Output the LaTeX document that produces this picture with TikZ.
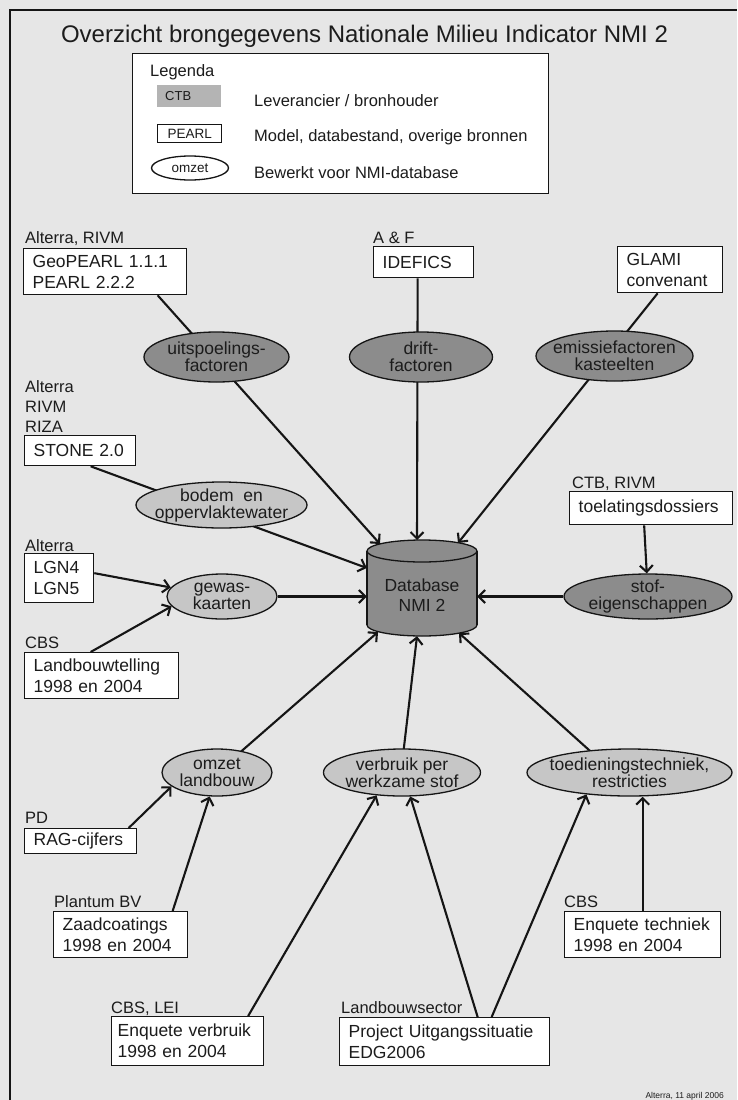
\documentclass[tikz,border=0pt]{standalone}
\usepackage{fontspec}
\setmainfont{Liberation Sans}
\usetikzlibrary{calc,arrows.meta,shapes.geometric}
\pgfdeclarelayer{bg}\pgfdeclarelayer{edges}
\pgfsetlayers{bg,edges,main}
\definecolor{bgc}{HTML}{E6E6E6}
\definecolor{darkc}{HTML}{8C8C8C}
\definecolor{lightc}{HTML}{C6C6C6}
\definecolor{ctbc}{HTML}{B4B4B4}
\definecolor{txt}{HTML}{1C1C1C}
\definecolor{lnc}{HTML}{151515}
\hyphenpenalty=10000
\tikzset{
  box/.style={draw=lnc, line width=1.3pt, fill=white, anchor=north west, align=left,
    inner xsep=9pt, inner ysep=0pt, font=\fontsize{17.5}{21}\selectfont, text=txt},
  src/.style={anchor=base west, inner sep=0pt, font=\fontsize{16.5}{20}\selectfont, text=txt},
  ell/.style={ellipse, draw=lnc, line width=1.3pt, inner sep=0pt},
  darkell/.style={ell, fill=darkc},
  lightell/.style={ell, fill=lightc},
  etext/.style={align=center, font=\fontsize{17.5}{17}\selectfont, text=txt, inner sep=0pt},
  ln/.style={line width=2.1pt, draw=lnc},
  arr/.style={ln, -{Straight Barb[length=6.5pt,width=13pt]}},
  legtxt/.style={anchor=base west, inner sep=0pt, font=\fontsize{16.5}{20}\selectfont, text=txt},
}
\begin{document}
\begin{tikzpicture}[x=1pt,y=-1pt]
\useasboundingbox (0,0) rectangle (737,1100);
\begin{pgfonlayer}{bg}
  \fill[bgc] (0,0) rectangle (737,1100);
  \draw[line width=1.8pt, lnc] (10,1100) -- (10,10) -- (737,10);
\end{pgfonlayer}

% title
\node[anchor=base, inner sep=0pt, font=\fontsize{24}{28}\selectfont, text=txt] (title) at (364.5,42)
  {Overzicht brongegevens Nationale Milieu Indicator NMI 2};

% legend
\node[draw=lnc, line width=1.3pt, fill=white, minimum width=416pt, minimum height=140pt,
  anchor=north west, inner sep=0pt] (leg) at (132,53) {};
\node[legtxt] (legt) at (150,76) {Legenda};
\node[fill=ctbc, minimum width=64pt, minimum height=22pt, anchor=north west, inner xsep=8pt,
  text width=48pt, align=left, font=\fontsize{13}{15}\selectfont, text=txt] (lctb) at (157,85) {CTB};
\node[legtxt] (lctbt) at (254,106) {Leverancier / bronhouder};
\node[draw=lnc, line width=1.3pt, fill=white, minimum width=64pt, minimum height=18pt,
  anchor=north west, inner sep=0pt, font=\fontsize{13.5}{15}\selectfont, text=txt] (lpearl) at (157,124) {PEARL};
\node[legtxt] (lpearlt) at (254,141) {Model, databestand, overige bronnen};
\node[ell, fill=white, minimum width=77pt, minimum height=24pt, font=\fontsize{13.5}{15}\selectfont, text=txt]
  (lomzet) at (190,168) {omzet};
\node[legtxt] (lomzett) at (254,178) {Bewerkt voor NMI-database};

% source labels
\node[src] (s1) at (25,243) {Alterra, RIVM};
\node[src, anchor=north west, align=left] (s2) at (25,380) {Alterra\\RIVM\\RIZA};
\node[src] (s3) at (373,243) {A \& F};
\node[src] (s4) at (572,488) {CTB, RIVM};
\node[src] (s5) at (25,551) {Alterra};
\node[src] (s6) at (25,648) {CBS};
\node[src] (s7) at (25,823) {PD};
\node[src] (s8) at (54,907) {Plantum BV};
\node[src] (s9) at (111,1013) {CBS, LEI};
\node[src] (s10) at (341,1013) {Landbouwsector};
\node[src] (s11) at (564,907) {CBS};

% boxes
\node[box, minimum width=163pt, minimum height=46pt, text width=145pt] (geo) at (23,248) {GeoPEARL 1.1.1\\PEARL 2.2.2};
\node[box, minimum width=100pt, minimum height=31pt, text width=82pt] (idef) at (373,246) {IDEFICS};
\node[box, minimum width=105pt, minimum height=46pt, text width=87pt] (glami) at (617,246) {GLAMI\\convenant};
\node[box, minimum width=111pt, minimum height=30pt, text width=93pt] (stone) at (24,435) {STONE 2.0};
\node[box, minimum width=163pt, minimum height=33pt, text width=145pt] (toel) at (569,491) {toelatingsdossiers};
\node[box, minimum width=69pt, minimum height=49pt, text width=51pt] (lgn) at (24,553) {LGN4\\LGN5};
\node[box, minimum width=154pt, minimum height=46pt, text width=136pt] (landb) at (24,652) {Landbouwtelling\\1998 en 2004};
\node[box, minimum width=112pt, minimum height=25pt, text width=94pt] (rag) at (24,828) {RAG-cijfers};
\node[box, minimum width=134pt, minimum height=46pt, text width=116pt] (zaad) at (53,911) {Zaadcoatings\\1998 en 2004};
\node[box, inner xsep=6pt, minimum width=152pt, minimum height=49pt, text width=140pt] (enqv) at (111,1016) {Enquete verbruik\\1998 en 2004};
\node[box, minimum width=210pt, minimum height=48pt, text width=192pt] (proj) at (339,1017) {Project Uitgangssituatie\\EDG2006};
\node[box, minimum width=156pt, minimum height=46pt, text width=138pt] (enqt) at (564,911) {Enquete techniek\\1998 en 2004};

% ellipses
\node[darkell, minimum width=145pt, minimum height=50pt, label={[etext]center:{uitspoelings-\\factoren}}] (uits) at (216.5,357) {};
\node[darkell, minimum width=143pt, minimum height=50pt, label={[etext]center:{drift-\\factoren}}] (drift) at (421,357) {};
\node[darkell, minimum width=157pt, minimum height=50pt, label={[etext]center:{emissiefactoren\\kasteelten}}] (emis) at (614.5,356) {};
\node[lightell, minimum width=171pt, minimum height=46pt, label={[etext]center:{bodem~ en\\oppervlaktewater}}] (bodem) at (221.5,505) {};
\node[lightell, minimum width=110pt, minimum height=45pt, label={[etext]center:{gewas-\\kaarten}}] (gewas) at (222,596.5) {};
\node[darkell, minimum width=168pt, minimum height=45pt, label={[etext]center:{stof-\\eigenschappen}}] (stof) at (648,596.5) {};
\node[lightell, minimum width=110pt, minimum height=47pt, label={[etext]center:{omzet\\landbouw}}] (omzet) at (217,772.5) {};
\node[lightell, minimum width=157pt, minimum height=47pt, label={[etext]center:{verbruik per\\werkzame stof}}] (verb) at (402,772.5) {};
\node[lightell, minimum width=205pt, minimum height=47pt, label={[etext]center:{toedieningstechniek,\\restricties}}] (toed) at (629.5,772.5) {};

% database cylinder
\coordinate (dbc) at (422,588);
\draw[line width=1.3pt, lnc, fill=darkc] ($(dbc)+(0,37)$) ellipse [x radius=55, y radius=11];
\fill[darkc] ($(dbc)+(-55,-37)$) rectangle ($(dbc)+(55,37)$);
\draw[line width=1.3pt, lnc] ($(dbc)+(-55,-37)$) -- ($(dbc)+(-55,37)$);
\draw[line width=1.3pt, lnc] ($(dbc)+(55,-37)$) -- ($(dbc)+(55,37)$);
\draw[line width=1.3pt, lnc, fill=darkc] ($(dbc)+(0,-37)$) ellipse [x radius=55, y radius=11];
\node[minimum width=110pt, minimum height=96pt, inner sep=0pt,
  label={[etext, font=\fontsize{17.5}{20}\selectfont, yshift=-7pt]center:{Database\\NMI 2}}] (db) at (dbc) {};

% footer
\node[anchor=base east, inner sep=0pt, font=\fontsize{8.5}{10}\selectfont, text=txt] (foot) at (724,1098) {Alterra, 11 april 2006};

% connectors
\begin{pgfonlayer}{edges}
  \draw[arr] ($(geo.south)+(52.5,0)$) -- ($(db.center)+(-42,-44)$);
  \draw[arr] ($(idef.south)+(-6,0)$) -- ($(db.center)+(-5,-48)$);
  \draw[arr] ($(glami.south)+(-12.5,0)$) -- ($(db.center)+(36,-45)$);
  \draw[arr] ($(stone.south)+(10.5,0)$) -- ($(db.west)+(0,-20)$);
  \draw[arr] ($(lgn.east)+(0,-5)$) -- (gewas.170);
  \draw[arr] ($(landb.north)+(-11,0)$) -- (gewas.191);
  \draw[arr] (gewas.east) -- (gewas.east -| db.west);
  \draw[arr] (omzet.center) -- ($(db.center)+(-44,44)$);
  \draw[arr] ($(rag.north)+(48,0)$) -- (omzet.197);
  \draw[arr] ($(zaad.north)+(52,0)$) -- (omzet.253);
  \draw[arr] ($(verb.center)+(-1,0)$) -- ($(db.south)+(-5,0)$);
  \draw[arr] ($(toed.center)+(-15.5,0)$) -- ($(db.center)+(37,45)$);
  \draw[arr] (enqt.north) -- (enqt.north |- toed.south);
  \draw[arr] ($(toel.south)+(-7,0)$) -- (stof);
  \draw[arr] (stof.west) -- (stof.west -| db.east);
  \draw[arr] ($(enqv.north)+(60.5,0)$) -- (verb.222);
  \draw[arr] ($(proj.north)+(33,0)$) -- (verb.289);
  \draw[arr] ($(proj.north)+(47,0)$) -- (toed.207);
\end{pgfonlayer}
\end{tikzpicture}
\end{document}
